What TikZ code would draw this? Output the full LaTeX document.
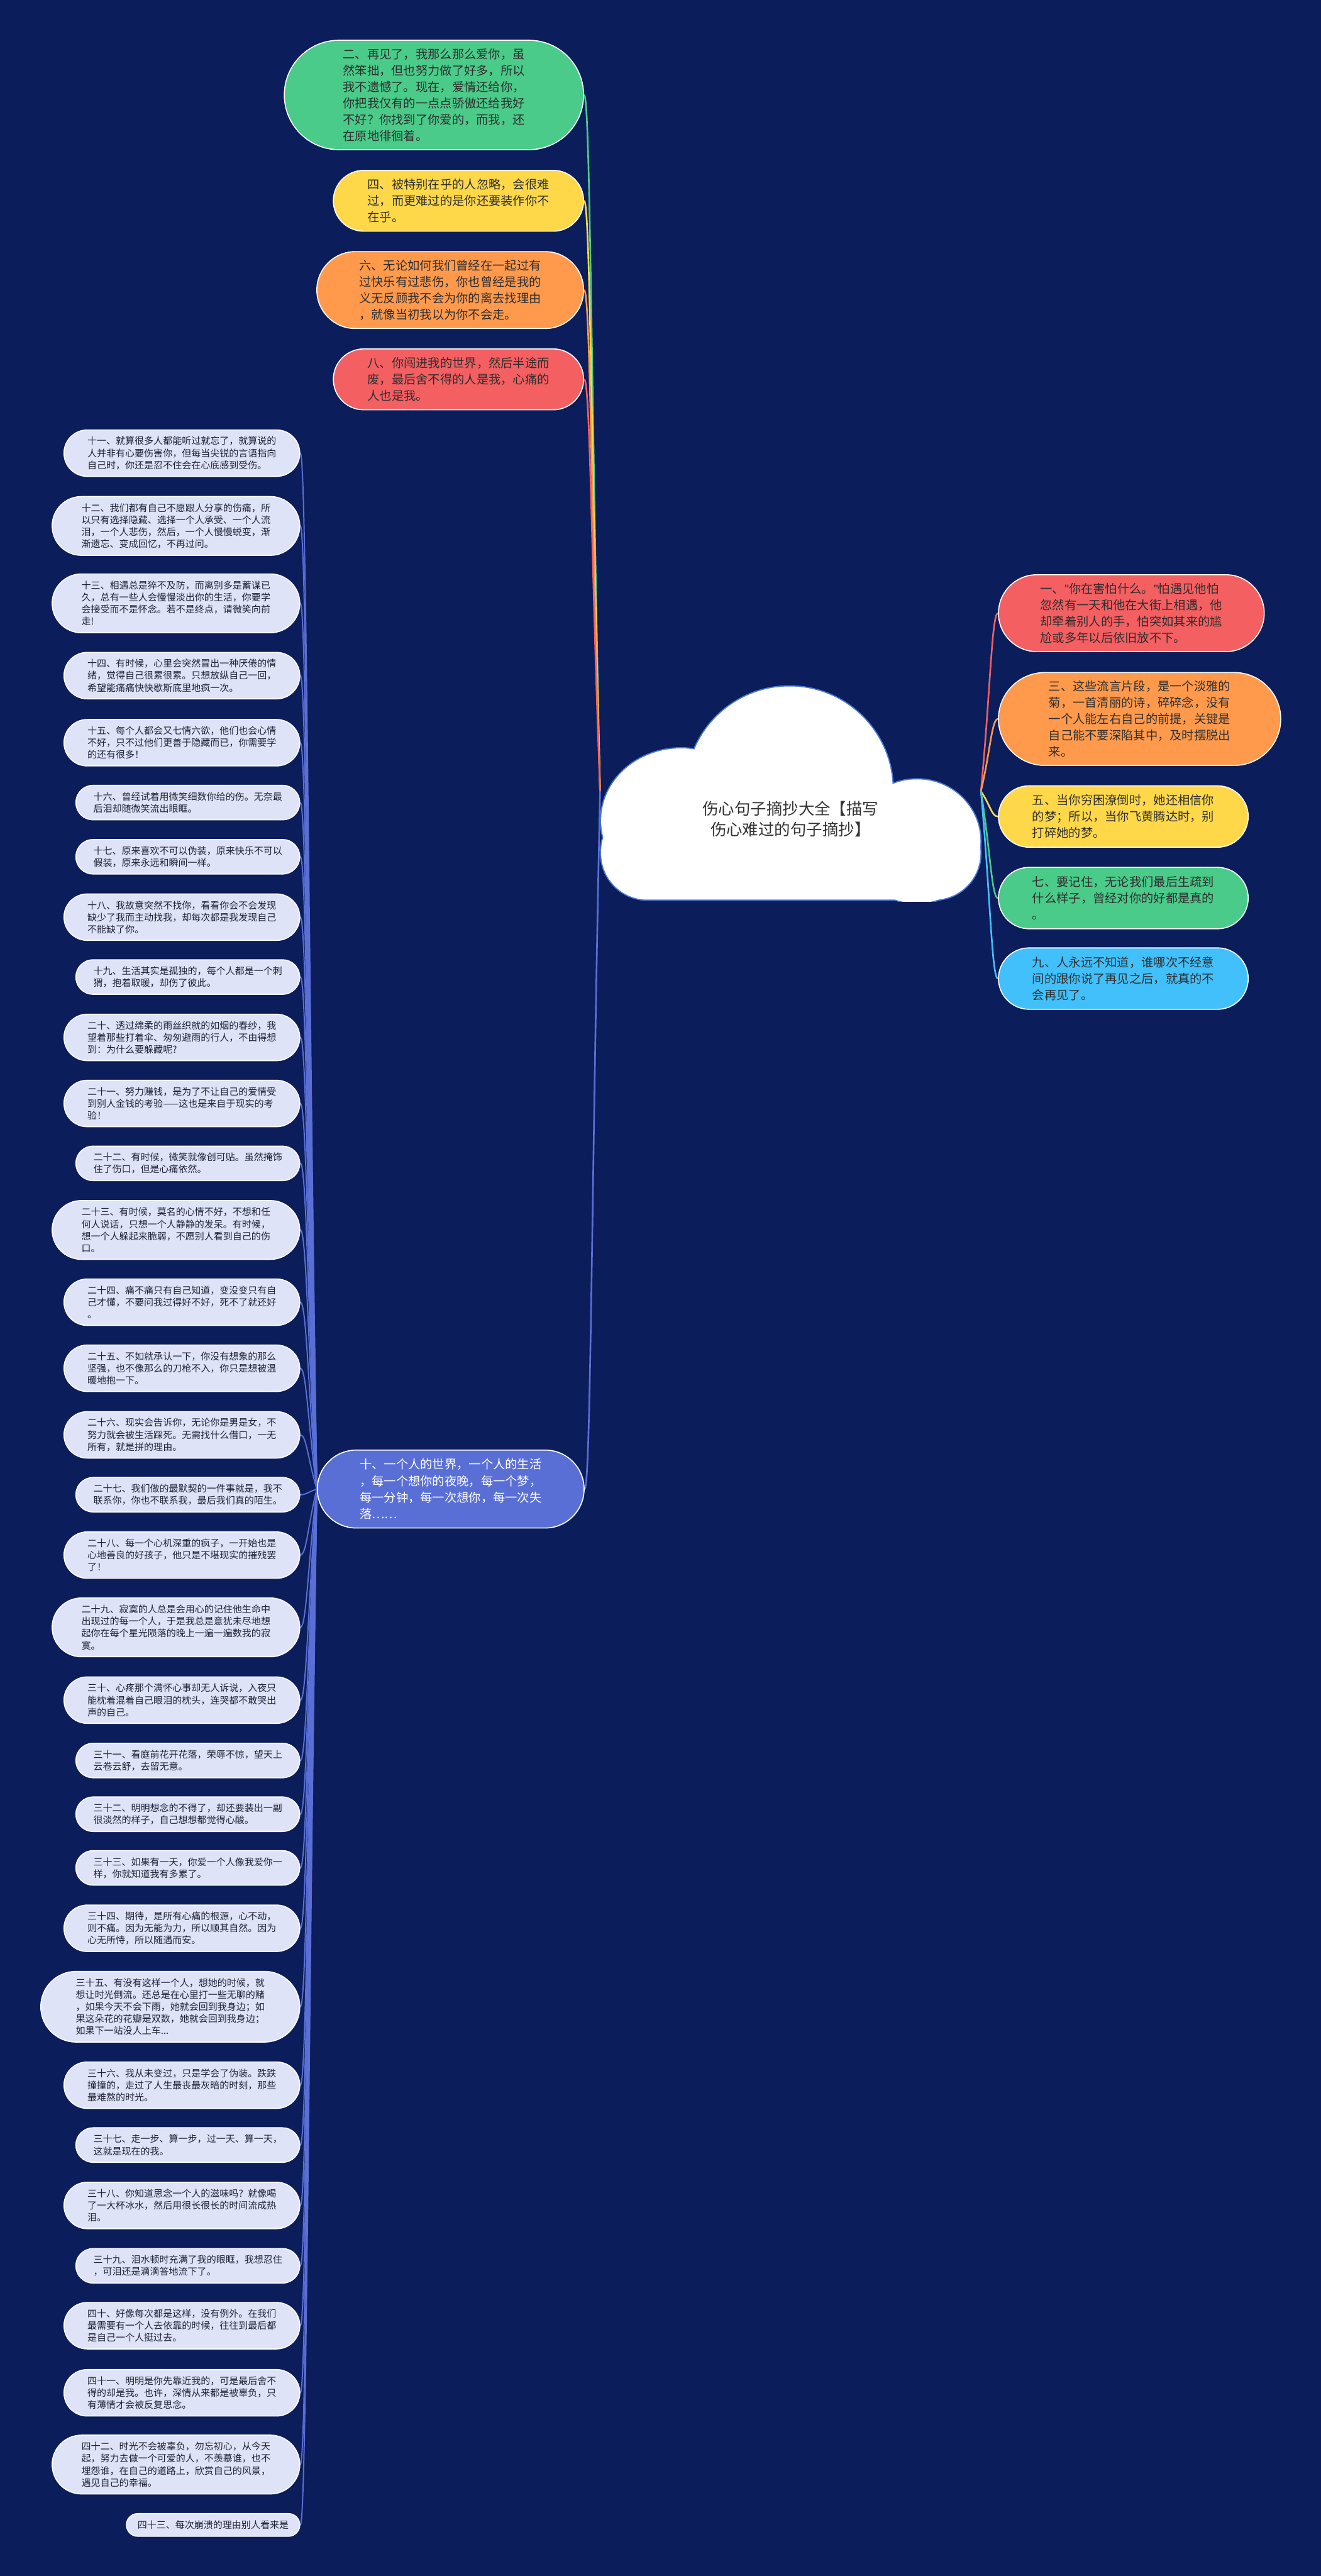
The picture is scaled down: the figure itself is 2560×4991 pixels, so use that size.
\documentclass[tikz,border=0pt]{standalone}
\usepackage{fontspec}
\setmainfont{Noto Sans CJK SC}
\newfontfamily\latinq{Liberation Sans}
\usetikzlibrary{calc}
\definecolor{bgc}{HTML}{0B1D5A}
\definecolor{cgreen}{HTML}{4ACB8A}
\definecolor{cyellow}{HTML}{FFD84A}
\definecolor{corange}{HTML}{FF9A4D}
\definecolor{cred}{HTML}{F45F62}
\definecolor{cblue}{HTML}{41C0FC}
\definecolor{tenblue}{HTML}{5A6FD6}
\definecolor{lfill}{HTML}{DFE3F7}
\definecolor{ltxt}{HTML}{1E2235}
\definecolor{tdark}{HTML}{2E2E2E}
\definecolor{rim}{HTML}{4A78D8}
\definecolor{tcloud}{HTML}{333333}
\pgfdeclarelayer{back}
\pgfdeclarelayer{lines}
\pgfsetlayers{back,lines,main}
\newcommand{\sq}{{\latinq\symbol{34}}}
\begin{document}
\begin{tikzpicture}[x=0.5pt,y=-0.5pt,
  pill/.style={draw=white, line width=1pt, inner sep=0pt, align=left},
  bigtxt/.style={font=\fontsize{11.75}{15.9}\selectfont, text=tdark},
  smalltxt/.style={font=\fontsize{9.15}{11.65}\selectfont, text=ltxt, fill=lfill, anchor=east},
  l1/.style={pill, smalltxt, minimum width=168pt, minimum height=22pt, rounded corners=11pt},
  l2/.style={pill, smalltxt, minimum width=217pt, minimum height=33.5pt, rounded corners=16.75pt},
  l3/.style={pill, smalltxt, minimum width=228.5pt, minimum height=45pt, rounded corners=22.5pt},
  l4/.style={pill, smalltxt, minimum width=240pt, minimum height=57pt, rounded corners=28.5pt},
  l5/.style={pill, smalltxt, minimum width=251pt, minimum height=68.5pt, rounded corners=34.25pt},
  conn/.style={line width=1.6pt, line cap=round},
  lconn/.style={line width=1.2pt, draw=tenblue, line cap=round},
]
\useasboundingbox (0,0) rectangle (2560,4991);
\begin{pgfonlayer}{back}
\fill[bgc] (0,0) rectangle (2560,4991);
\end{pgfonlayer}

% ---------- cloud ----------
\begin{scope}
\clip (1100,1300) rectangle (1960,1747);
\begin{scope}[draw=rim, line width=2.4pt]
\draw[rounded corners=45pt] (1165,1560) rectangle (1900,1743);
\draw (1530,1530) circle[radius=100pt];
\draw (1320,1590) ellipse[x radius=77.5pt, y radius=70pt];
\draw (1777,1630) ellipse[x radius=61.5pt, y radius=60pt];
\end{scope}
\begin{scope}[fill=white]
\fill[rounded corners=45pt] (1165,1560) rectangle (1900,1743);
\fill (1530,1530) circle[radius=100pt];
\fill (1320,1590) ellipse[x radius=77.5pt, y radius=70pt];
\fill (1777,1630) ellipse[x radius=61.5pt, y radius=60pt];
\end{scope}
\end{scope}
\node[font=\fontsize{15.5}{20}\selectfont, text=tcloud, align=center] (root) at (1532,1587) {伤心句子摘抄大全【描写\\伤心难过的句子摘抄】};
\coordinate (cl) at (1163,1533);
\coordinate (cr) at (1901,1533);

% ---------- top nodes ----------
\node[pill, bigtxt, fill=cgreen, anchor=east, minimum width=290pt, minimum height=106pt, rounded corners=53pt] (n2) at (1132,184) {二、再见了，我那么那么爱你，虽\\然笨拙，但也努力做了好多，所以\\我不遗憾了。现在，爱情还给你，\\你把我仅有的一点点骄傲还给我好\\不好？你找到了你爱的，而我，还\\在原地徘徊着。};
\node[pill, bigtxt, fill=cyellow, anchor=east, minimum width=242.5pt, minimum height=59pt, rounded corners=29.5pt] (n4) at (1132,389) {四、被特别在乎的人忽略，会很难\\过，而更难过的是你还要装作你不\\在乎。};
\node[pill, bigtxt, fill=corange, anchor=east, minimum width=258.5pt, minimum height=74.5pt, rounded corners=37.25pt] (n6) at (1132,562) {六、无论如何我们曾经在一起过有\\过快乐有过悲伤，你也曾经是我的\\义无反顾我不会为你的离去找理由\\，就像当初我以为你不会走。};
\node[pill, bigtxt, fill=cred, anchor=east, minimum width=242.5pt, minimum height=59pt, rounded corners=29.5pt] (n8) at (1132,735) {八、你闯进我的世界，然后半途而\\废，最后舍不得的人是我，心痛的\\人也是我。};

% ---------- right nodes ----------
\node[pill, bigtxt, fill=cred, anchor=west, minimum width=257.5pt, minimum height=74.5pt, rounded corners=37.25pt] (n1) at (1934,1188) {一、\sq 你在害怕什么。\sq 怕遇见他怕\\忽然有一天和他在大街上相遇，他\\却牵着别人的手，怕突如其来的尴\\尬或多年以后依旧放不下。};
\node[pill, bigtxt, fill=corange, anchor=west, minimum width=273.5pt, minimum height=90pt, rounded corners=45pt] (n3) at (1934,1393) {三、这些流言片段，是一个淡雅的\\菊，一首清丽的诗，碎碎念，没有\\一个人能左右自己的前提，关键是\\自己能不要深陷其中，及时摆脱出\\来。};
\node[pill, bigtxt, fill=cyellow, anchor=west, minimum width=242pt, minimum height=59.5pt, rounded corners=29.75pt] (n5) at (1934,1582) {五、当你穷困潦倒时，她还相信你\\的梦；所以，当你飞黄腾达时，别\\打碎她的梦。};
\node[pill, bigtxt, fill=cgreen, anchor=west, minimum width=242pt, minimum height=59.5pt, rounded corners=29.75pt] (n7) at (1934,1740) {七、要记住，无论我们最后生疏到\\什么样子，曾经对你的好都是真的\\。};
\node[pill, bigtxt, fill=cblue, anchor=west, minimum width=242pt, minimum height=59.5pt, rounded corners=29.75pt] (n9) at (1934,1896) {九、人永远不知道，谁哪次不经意\\间的跟你说了再见之后，就真的不\\会再见了。};

% ---------- node 10 ----------
\node[pill, bigtxt, text=white, fill=tenblue, anchor=east, minimum width=258.5pt, minimum height=75.5pt, rounded corners=37.75pt] (n10) at (1133,2885) {十、一个人的世界，一个人的生活\\，每一个想你的夜晚，每一个梦，\\每一分钟，每一次想你，每一次失\\落……};

% ---------- left nodes ----------
\node[l3] (n11) at (582,878) {十一、就算很多人都能听过就忘了，就算说的\\人并非有心要伤害你，但每当尖锐的言语指向\\自己时，你还是忍不住会在心底感到受伤。};
\node[l4] (n12) at (582,1019) {十二、我们都有自己不愿跟人分享的伤痛，所\\以只有选择隐藏、选择一个人承受、一个人流\\泪，一个人悲伤，然后，一个人慢慢蜕变，渐\\渐遗忘、变成回忆，不再过问。};
\node[l4] (n13) at (582,1169) {十三、相遇总是猝不及防，而离别多是蓄谋已\\久，总有一些人会慢慢淡出你的生活，你要学\\会接受而不是怀念。若不是终点，请微笑向前\\走!};
\node[l3] (n14) at (582,1309) {十四、有时候，心里会突然冒出一种厌倦的情\\绪，觉得自己很累很累。只想放纵自己一回，\\希望能痛痛快快歇斯底里地疯一次。};
\node[l3] (n15) at (582,1439) {十五、每个人都会又七情六欲，他们也会心情\\不好，只不过他们更善于隐藏而已，你需要学\\的还有很多！};
\node[l2] (n16) at (582,1555) {十六、曾经试着用微笑细数你给的伤。无奈最\\后泪却随微笑流出眼眶。};
\node[l2] (n17) at (582,1660) {十七、原来喜欢不可以伪装，原来快乐不可以\\假装，原来永远和瞬间一样。};
\node[l3] (n18) at (582,1777) {十八、我故意突然不找你，看看你会不会发现\\缺少了我而主动找我，却每次都是我发现自己\\不能缺了你。};
\node[l2] (n19) at (582,1893) {十九、生活其实是孤独的，每个人都是一个刺\\猬，抱着取暖，却伤了彼此。};
\node[l3] (n20) at (582,2010) {二十、透过绵柔的雨丝织就的如烟的春纱，我\\望着那些打着伞、匆匆避雨的行人，不由得想\\到：为什么要躲藏呢?};
\node[l3] (n21) at (582,2138) {二十一、努力赚钱，是为了不让自己的爱情受\\到别人金钱的考验——这也是来自于现实的考\\验！};
\node[l2] (n22) at (582,2254) {二十二、有时候，微笑就像创可贴。虽然掩饰\\住了伤口，但是心痛依然。};
\node[l4] (n23) at (582,2383) {二十三、有时候，莫名的心情不好，不想和任\\何人说话，只想一个人静静的发呆。有时候，\\想一个人躲起来脆弱，不愿别人看到自己的伤\\口。};
\node[l3] (n24) at (582,2523) {二十四、痛不痛只有自己知道，变没变只有自\\己才懂，不要问我过得好不好，死不了就还好\\。};
\node[l3] (n25) at (582,2651) {二十五、不如就承认一下，你没有想象的那么\\坚强，也不像那么的刀枪不入，你只是想被温\\暖地抱一下。};
\node[l3] (n26) at (582,2780) {二十六、现实会告诉你，无论你是男是女，不\\努力就会被生活踩死。无需找什么借口，一无\\所有，就是拼的理由。};
\node[l2] (n27) at (582,2896) {二十七、我们做的最默契的一件事就是，我不\\联系你，你也不联系我，最后我们真的陌生。};
\node[l3] (n28) at (582,3013) {二十八、每一个心机深重的疯子，一开始也是\\心地善良的好孩子，他只是不堪现实的摧残罢\\了！};
\node[l4] (n29) at (582,3153) {二十九、寂寞的人总是会用心的记住他生命中\\出现过的每一个人，于是我总是意犹未尽地想\\起你在每个星光陨落的晚上一遍一遍数我的寂\\寞。};
\node[l3] (n30) at (582,3294) {三十、心疼那个满怀心事却无人诉说，入夜只\\能枕着混着自己眼泪的枕头，连哭都不敢哭出\\声的自己。};
\node[l2] (n31) at (582,3411) {三十一、看庭前花开花落，荣辱不惊，望天上\\云卷云舒，去留无意。};
\node[l2] (n32) at (582,3515) {三十二、明明想念的不得了，却还要装出一副\\很淡然的样子，自己想想都觉得心酸。};
\node[l2] (n33) at (582,3619) {三十三、如果有一天，你爱一个人像我爱你一\\样，你就知道我有多累了。};
\node[l3] (n34) at (582,3736) {三十四、期待，是所有心痛的根源，心不动，\\则不痛。因为无能为力，所以顺其自然。因为\\心无所恃，所以随遇而安。};
\node[l5] (n35) at (582,3888) {三十五、有没有这样一个人，想她的时候，就\\想让时光倒流。还总是在心里打一些无聊的赌\\，如果今天不会下雨，她就会回到我身边；如\\果这朵花的花瓣是双数，她就会回到我身边；\\如果下一站没人上车...};
\node[l3] (n36) at (582,4040) {三十六、我从未变过，只是学会了伪装。跌跌\\撞撞的，走过了人生最丧最灰暗的时刻，那些\\最难熬的时光。};
\node[l2] (n37) at (582,4156) {三十七、走一步、算一步，过一天、算一天，\\这就是现在的我。};
\node[l3] (n38) at (582,4273) {三十八、你知道思念一个人的滋味吗？就像喝\\了一大杯冰水，然后用很长很长的时间流成热\\泪。};
\node[l2] (n39) at (582,4390) {三十九、泪水顿时充满了我的眼眶，我想忍住\\，可泪还是滴滴答地流下了。};
\node[l3] (n40) at (582,4506) {四十、好像每次都是这样，没有例外。在我们\\最需要有一个人去依靠的时候，往往到最后都\\是自己一个人挺过去。};
\node[l3] (n41) at (582,4636) {四十一、明明是你先靠近我的，可是最后舍不\\得的却是我。也许，深情从来都是被辜负，只\\有薄情才会被反复思念。};
\node[l4] (n42) at (582,4775) {四十二、时光不会被辜负，勿忘初心，从今天\\起，努力去做一个可爱的人，不羡慕谁，也不\\埋怨谁，在自己的道路上，欣赏自己的风景，\\遇见自己的幸福。};
\node[l1] (n43) at (582,4892) {四十三、每次崩溃的理由别人看来是};

% ---------- connectors ----------
\begin{pgfonlayer}{lines}
\foreach \n/\c in {n2/cgreen, n4/cyellow, n6/corange, n8/cred, n10/tenblue}
  \draw[conn, draw=\c] (cl) .. controls ($(cl)!0.55!(\n.east)$) and ($(\n.east)+(12,0)$) .. (\n.east);
\foreach \n/\c in {n1/cred, n3/corange, n5/cyellow, n7/cgreen, n9/cblue}
  \draw[conn, draw=\c] (cr) .. controls ($(cr)!0.55!(\n.west)$) and ($(\n.west)+(-12,0)$) .. (\n.west);
\foreach \n in {n11,n12,n13,n14,n15,n16,n17,n18,n19,n20,n21,n22,n23,n24,n25,n26,n27,n28,n29,n30,n31,n32,n33,n34,n35,n36,n37,n38,n39,n40,n41,n42,n43}
  \draw[lconn] (n10.west) .. controls ($(n10.west)!0.55!(\n.east)$) and ($(\n.east)+(12,0)$) .. (\n.east);
\end{pgfonlayer}
\end{tikzpicture}
\end{document}
